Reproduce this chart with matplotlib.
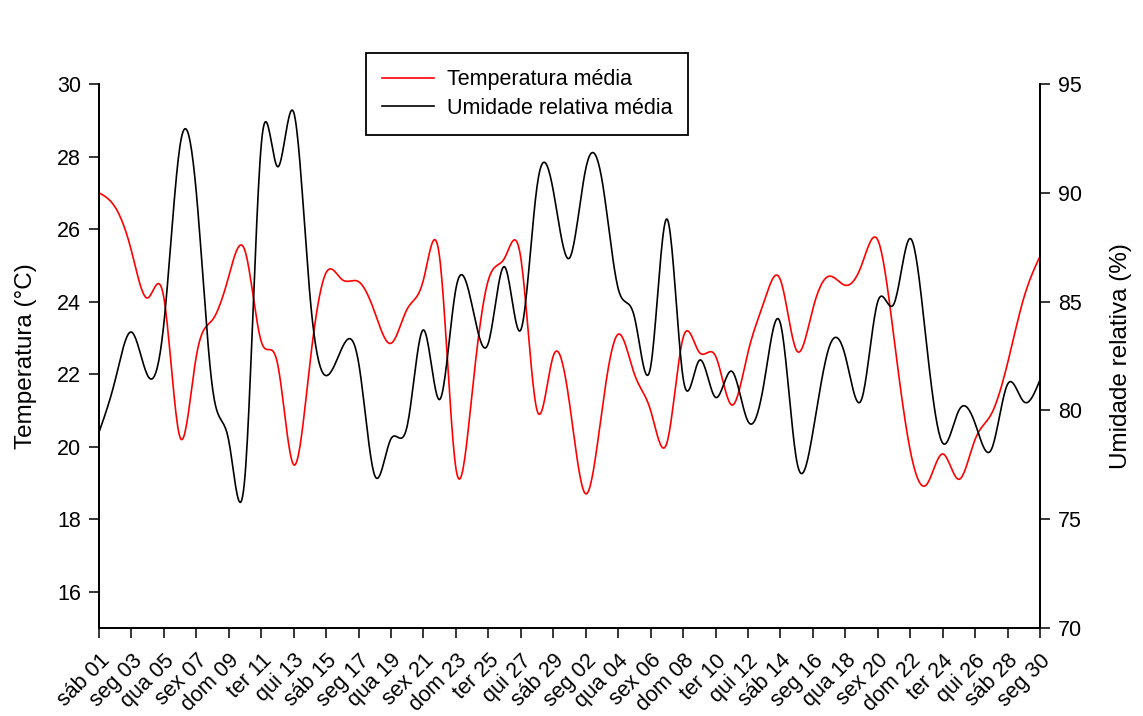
import matplotlib
matplotlib.use("Agg")
import matplotlib.pyplot as plt
import numpy as np

plt.rcParams['font.family'] = ['Liberation Sans', 'DejaVu Sans']

# daily means, 01 Feb to 30 Mar
temperatura = [27.0, 26.6, 25.4, 24.1, 24.1, 20.25, 22.5, 23.5, 24.7, 25.4,
               22.9, 22.3, 19.5, 22.3, 24.8, 24.6, 24.55, 23.7, 22.85, 23.8,
               24.6, 25.2, 19.4, 21.5, 24.6, 25.2, 25.2, 21.0, 22.5, 21.2,
               18.7, 21.0, 23.1, 22.0, 21.0, 20.1, 23.0, 22.6, 22.5, 21.15,
               22.6, 24.0, 24.6, 22.65, 23.8, 24.7, 24.45, 25.0, 25.7, 23.0,
               19.9, 18.95, 19.8, 19.1, 20.2, 20.9, 22.3, 24.1, 25.25]
umidade = [79.0, 81.4, 83.6, 81.6, 84.0, 92.2, 90.0, 81.0, 78.6, 77.0,
           92.2, 91.2, 93.7, 85.3, 81.6, 82.9, 82.2, 77.0, 78.7, 79.3,
           83.7, 80.5, 85.6, 84.8, 83.1, 86.6, 83.7, 90.3, 90.1, 87.0,
           91.1, 90.6, 85.6, 84.3, 82.0, 88.8, 81.5, 82.3, 80.6, 81.8,
           79.5, 81.3, 84.0, 77.7, 79.0, 82.9, 82.5, 80.5, 85.0, 84.9,
           87.9, 83.1, 78.5, 80.0, 79.4, 78.2, 81.2, 80.4, 81.4]
rotulos = ['sáb 01', 'seg 03', 'qua 05', 'sex 07', 'dom 09', 'ter 11', 'qui 13',
           'sáb 15', 'seg 17', 'qua 19', 'sex 21', 'dom 23', 'ter 25', 'qui 27',
           'sáb 29', 'seg 02', 'qua 04', 'sex 06', 'dom 08', 'ter 10', 'qui 12',
           'sáb 14', 'seg 16', 'qua 18', 'sex 20', 'dom 22', 'ter 24', 'qui 26',
           'sáb 28', 'seg 30']

dias = np.arange(len(temperatura))


def spline(x, y, xs):
    # natural cubic spline
    x = np.asarray(x, float)
    y = np.asarray(y, float)
    n = len(x)
    h = np.diff(x)
    A = np.zeros((n, n))
    r = np.zeros(n)
    A[0, 0] = 1
    A[-1, -1] = 1
    for i in range(1, n - 1):
        A[i, i - 1] = h[i - 1]
        A[i, i] = 2 * (h[i - 1] + h[i])
        A[i, i + 1] = h[i]
        r[i] = 3 * ((y[i + 1] - y[i]) / h[i] - (y[i] - y[i - 1]) / h[i - 1])
    c = np.linalg.solve(A, r)
    b = (y[1:] - y[:-1]) / h - h * (2 * c[:-1] + c[1:]) / 3
    d = (c[1:] - c[:-1]) / (3 * h)
    k = np.clip(np.searchsorted(x, xs) - 1, 0, n - 2)
    t = xs - x[k]
    return y[k] + b[k] * t + c[k] * t ** 2 + d[k] * t ** 3


xs = np.linspace(dias[0], dias[-1], 1200)

fig = plt.figure(figsize=(11.43, 7.16), dpi=100)
ax = fig.add_axes([99 / 1143, 1 - 628 / 716, 941 / 1143, 544 / 716])
ax2 = ax.twinx()

l1, = ax.plot(xs, spline(dias, temperatura, xs), color='red', lw=1.2,
              label='Temperatura média')
l2, = ax2.plot(xs, spline(dias, umidade, xs), color='black', lw=1.2,
               label='Umidade relativa média')

ax.set_xlim(dias[0], dias[-1])
ax.set_ylim(15, 30)
ax.set_yticks(np.arange(16, 31, 2))
ax2.set_ylim(70, 95)
ax2.set_yticks(np.arange(70, 96, 5))
ax.set_xticks(dias[::2])
ax.set_xticklabels(rotulos, rotation=45, ha='right', rotation_mode='anchor')

for a in (ax, ax2):
    a.spines['top'].set_visible(False)
    for s in a.spines.values():
        s.set_linewidth(1.3)
    a.tick_params(direction='out', length=7, width=1.1, labelsize=15.5, pad=6)
ax.tick_params(axis='x', pad=9)

ax.set_ylabel('Temperatura (°C)', fontsize=17.5, labelpad=14)
ax2.set_ylabel('Umidade relativa (%)', fontsize=17.5, labelpad=20)

leg = fig.legend(handles=[l1, l2], loc='upper left',
                 bbox_to_anchor=(366 / 1143, 1 - 53 / 716), fontsize=15.5,
                 fancybox=False, edgecolor='black', framealpha=1,
                 handlelength=2.4, handletextpad=0.6, labelspacing=0.35,
                 borderpad=0.75, borderaxespad=0)
leg.get_frame().set_linewidth(1.3)

fig.savefig('out.png', dpi=100)
